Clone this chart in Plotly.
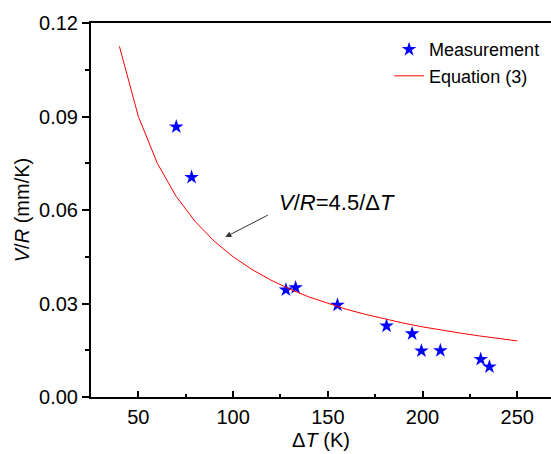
# V/R versus delta T: measured points and Equation (3) curve
import plotly.graph_objects as go

dT_meas = [70.0, 78.1, 127.9, 133.0, 155.1, 181.0, 194.5, 199.4, 209.4, 230.7, 235.3]
vr_meas = [0.0867, 0.0705, 0.0344, 0.0351, 0.0295, 0.0228, 0.0203, 0.0148, 0.0149, 0.0121, 0.0097]

# Equation (3) curve points
dT_eq = [40, 50, 60, 70, 80, 90, 100, 110, 120, 130, 140, 150,
         160, 170, 180, 190, 200, 210, 220, 230, 240, 250]
vr_eq = [0.1125, 0.0900, 0.0750, 0.0643, 0.0563, 0.0500, 0.0450, 0.0409,
         0.0375, 0.0346, 0.0321, 0.0300, 0.0281, 0.0265, 0.0250, 0.0237,
         0.0225, 0.0214, 0.0205, 0.0196, 0.0188, 0.0180]

x_ticks = [50, 100, 150, 200, 250]
y_ticks = [0.00, 0.03, 0.06, 0.09, 0.12]
y_tick_text = ["0.00", "0.03", "0.06", "0.09", "0.12"]

font = "Liberation Sans, Arial, sans-serif"

fig = go.Figure()
fig.add_trace(go.Scatter(x=dT_meas, y=vr_meas, mode='markers', name='Measurement',
                         marker=dict(symbol='star', size=11, color='#0000FF',
                                     line=dict(width=0))))
fig.add_trace(go.Scatter(x=dT_eq, y=vr_eq, mode='lines', name='Equation (3)',
                         line=dict(color='#FF0000', width=1)))

# equation label + arrow
fig.add_annotation(x=155, y=0.0623, xref='x', yref='y', showarrow=False,
                   text="<i>V</i>/<i>R</i>=4.5/Δ<i>T</i>",
                   font=dict(family=font, size=22, color='black'))
fig.add_annotation(x=95.9, y=0.0513, ax=119.1, ay=0.0586, xref='x', yref='y',
                   axref='x', ayref='y', text='', showarrow=True,
                   arrowhead=2, arrowsize=1.2, arrowwidth=1, arrowcolor='#333333')

fig.update_layout(
    width=551, height=454,
    margin=dict(l=91, r=0, t=23, b=57),
    paper_bgcolor='white', plot_bgcolor='white',
    font=dict(family=font, size=20, color='black'),
    showlegend=True,
    legend=dict(x=0.648, y=0.978, xanchor='left', yanchor='top',
                bgcolor='rgba(0,0,0,0)', font=dict(size=18),
                tracegroupgap=0, itemwidth=30),
    xaxis=dict(range=[25, 267.8], tickvals=x_ticks, ticks='inside', ticklen=6,
               tickwidth=2, tickcolor='black', showline=True, linewidth=2,
               linecolor='black', mirror=True, showgrid=False, zeroline=False,
               automargin=False, ticklabelstandoff=1,
               minor=dict(dtick=25, tick0=25, ticks='inside', ticklen=3,
                          tickwidth=2, tickcolor='black'),
               title=dict(text="Δ<i>T</i> (K)", font=dict(size=20), standoff=6)),
    yaxis=dict(range=[0, 0.12], tickvals=y_ticks, ticktext=y_tick_text,
               ticks='outside', ticklen=7, tickwidth=2, tickcolor='black',
               showline=True, linewidth=2, linecolor='black', mirror=False,
               showgrid=False, zeroline=False, automargin=False,
               minor=dict(dtick=0.015, tick0=0, ticks='outside', ticklen=4,
                          tickwidth=2, tickcolor='black'),
               title=dict(text="<i>V</i>/<i>R</i> (mm/K)", font=dict(size=20), standoff=4)),
)

# drop the page's default body margin so the figure sits at the top-left corner
fig.write_html("out.html", config={'displayModeBar': False},
               post_script="document.body.style.margin='0';document.body.style.overflow='hidden';")
